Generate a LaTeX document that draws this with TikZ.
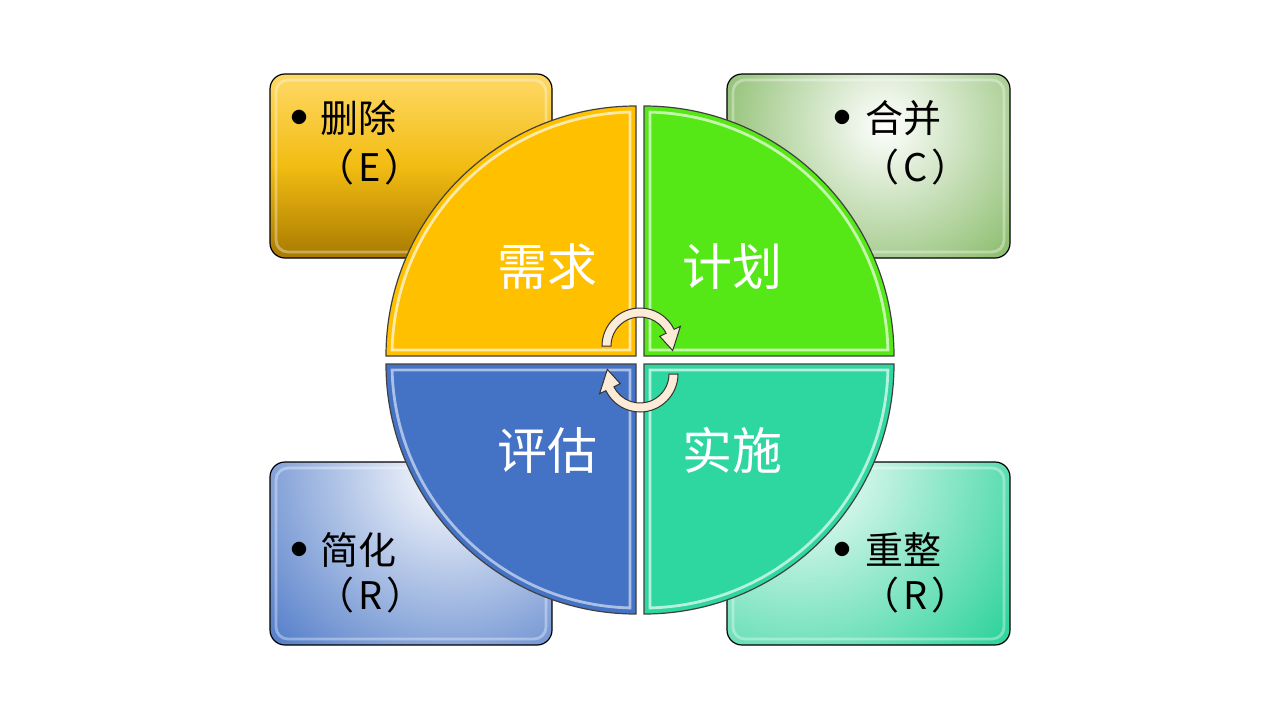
\documentclass[tikz,border=0pt]{standalone}
\usepackage{fontspec}
\newfontfamily\cjk{Noto Sans CJK SC}
\usetikzlibrary{positioning}

\definecolor{qYellow}{HTML}{FFC000}
\definecolor{qGreen}{HTML}{56E816}
\definecolor{qBlue}{HTML}{4472C4}
\definecolor{qTeal}{HTML}{2ED6A0}
\definecolor{delTop}{HTML}{FFD966}
\definecolor{delMid}{HTML}{F2BC12}
\definecolor{delBot}{HTML}{A87A00}
\definecolor{mergeC}{HTML}{74B050}
\definecolor{simpC}{HTML}{4472C4}
\definecolor{reorgC}{HTML}{34D49E}
\definecolor{cream}{HTML}{FCEBD6}

\tikzstyle{card}       = [draw=black, line width=0.6pt, rounded corners=7.5pt]
\tikzstyle{cardbevel}  = [draw=white, opacity=0.35, line width=1.4pt, rounded corners=6pt]
\tikzstyle{quarter}    = [draw=black!75, line width=0.6pt]
\tikzstyle{bevel}      = [line width=1.4pt]
\tikzstyle{phase}      = [text=white, inner sep=0pt, font=\cjk\fontsize{25}{25}\selectfont]
\tikzstyle{item}       = [anchor=base west, inner sep=0pt, font=\cjk\fontsize{19}{24}\selectfont]
\tikzstyle{bulletmark} = [inner sep=0pt, font=\cjk\fontsize{8}{8}\selectfont]
\tikzstyle{cyclearrow} = [draw=black!80, line width=0.5pt, fill=cream]

% card with a white glow: corner, corner, glow centre, glow radius, colour
\newcommand{\glowcard}[5]{
    \begin{scope}
        \clip[rounded corners=7.5pt] (#1) rectangle (#2);
        \fill[#5] (#1) rectangle (#2);
        \shade[inner color=white, outer color=#5] (#3) circle (#4);
    \end{scope}
    \draw[card] (#1) rectangle (#2);
}

\begin{document}
\begin{tikzpicture}[x=0.5pt,y=0.5pt]
    \useasboundingbox (0,0) rectangle (1280,720);

    % the four cards
    \draw[card, top color=delTop, bottom color=delBot, middle color=delMid] (270,462) rectangle (552,646);
    \glowcard{727,462}{1010,646}{885,595}{215}{mergeC}
    \glowcard{270,75}{552,258}{450,250}{270}{simpC}
    \glowcard{727,75}{1010,258}{800,255}{260}{reorgC}
    \draw[cardbevel] (276,468) rectangle (546,640);
    \draw[cardbevel] (733,468) rectangle (1004,640);
    \draw[cardbevel] (276,81) rectangle (546,252);
    \draw[cardbevel] (733,81) rectangle (1004,252);

    % card texts
    \node[bulletmark] (delDot) at (299,603) {●};
    \node[item] (delA) at (320,588) {删除};
    \node[item] (delB) at (316,539) {（\kern2pt E\kern2pt）};
    \node[bulletmark] (mergeDot) at (842,603) {●};
    \node[item] (mergeA) at (865,588) {合并};
    \node[item] (mergeB) at (861,539) {（\kern2pt C\kern2pt）};
    \node[bulletmark] (simpDot) at (299,171) {●};
    \node[item] (simpA) at (320,156) {简化};
    \node[item] (simpB) at (316,111) {（\kern2pt R\kern2pt）};
    \node[bulletmark] (reorgDot) at (842,171) {●};
    \node[item] (reorgA) at (865,156) {重整};
    \node[item] (reorgB) at (861,111) {（\kern2pt R\kern2pt）};

    % the four quarters
    \begin{scope}[shift={(636,364)}]
        \draw[quarter, fill=qYellow] (0,0) -- (180:250) arc[start angle=180, end angle=90, radius=250] -- cycle;
        \draw[bevel, draw=qYellow!35!white] (-6,6) -- (178.6:244) arc[start angle=178.6, end angle=91.4, radius=244] -- cycle;
    \end{scope}
    \begin{scope}[shift={(644,364)}, rotate=-90]
        \draw[quarter, fill=qGreen] (0,0) -- (180:250) arc[start angle=180, end angle=90, radius=250] -- cycle;
        \draw[bevel, draw=qGreen!35!white] (-6,6) -- (178.6:244) arc[start angle=178.6, end angle=91.4, radius=244] -- cycle;
    \end{scope}
    \begin{scope}[shift={(644,356)}, rotate=180]
        \draw[quarter, fill=qTeal] (0,0) -- (180:250) arc[start angle=180, end angle=90, radius=250] -- cycle;
        \draw[bevel, draw=qTeal!35!white] (-6,6) -- (178.6:244) arc[start angle=178.6, end angle=91.4, radius=244] -- cycle;
    \end{scope}
    \begin{scope}[shift={(636,356)}, rotate=90]
        \draw[quarter, fill=qBlue] (0,0) -- (180:250) arc[start angle=180, end angle=90, radius=250] -- cycle;
        \draw[bevel, draw=qBlue!45!white] (-6,6) -- (178.6:244) arc[start angle=178.6, end angle=91.4, radius=244] -- cycle;
    \end{scope}

    % phase labels
    \node[phase] (need) at (547,453) {需求};
    \node[phase] (plan) at (732,453) {计划};
    \node[phase] (eval) at (547,270) {评估};
    \node[phase] (impl) at (732,270) {实施};

    % cycle arrows
    \begin{scope}[shift={(640,374)}]
        \draw[cyclearrow] (180:38) arc[start angle=180, end angle=26, radius=38] -- (26:45) -- (-8:33) -- (26:22) -- (26:29) arc[start angle=26, end angle=180, radius=29] -- cycle;
    \end{scope}
    \begin{scope}[shift={(640,346)}, rotate=180]
        \draw[cyclearrow] (180:38) arc[start angle=180, end angle=26, radius=38] -- (26:45) -- (-8:33) -- (26:22) -- (26:29) arc[start angle=26, end angle=180, radius=29] -- cycle;
    \end{scope}
\end{tikzpicture}
\end{document}
